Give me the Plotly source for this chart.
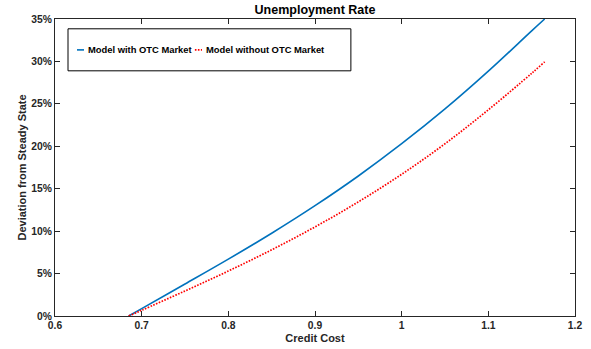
import plotly.graph_objects as go

# Credit cost grid and unemployment-rate deviations (percent)
credit_cost = [0.685, 0.70, 0.75, 0.80, 0.85, 0.90, 0.95, 1.00, 1.05, 1.10, 1.15, 1.165]
with_otc = [0.0, 0.87, 3.77, 6.7, 9.75, 13.0, 16.5, 20.3, 24.4, 28.85, 33.6, 35.0]
without_otc = [0.0, 0.67, 2.95, 5.3, 7.8, 10.5, 13.45, 16.7, 20.3, 24.3, 28.6, 29.95]

series_names = ["Model with OTC Market", "Model without OTC Market"]
x_ticks = [0.6, 0.7, 0.8, 0.9, 1.0, 1.1, 1.2]
x_tick_text = ["0.6", "0.7", "0.8", "0.9", "1", "1.1", "1.2"]
y_ticks = [0, 5, 10, 15, 20, 25, 30, 35]
y_tick_text = ["0%", "5%", "10%", "15%", "20%", "25%", "30%", "35%"]

BLUE = "#0072BD"
RED = "#FF0000"
AXIS = "#262626"
FONT = "Liberation Sans, Arial, Helvetica, sans-serif"

fig = go.Figure()
fig.add_trace(go.Scatter(
    x=credit_cost, y=with_otc, mode="lines", name=series_names[0],
    line=dict(color=BLUE, width=1.6, shape="spline", smoothing=1.0), showlegend=False,
))
fig.add_trace(go.Scatter(
    x=credit_cost, y=without_otc, mode="lines", name=series_names[1],
    line=dict(color=RED, width=1.7, dash="1.6px,1.4px", shape="spline", smoothing=1.0),
    showlegend=False,
))

axis_common = dict(
    showgrid=False, zeroline=False, showline=True, linecolor=AXIS, linewidth=1,
    mirror="ticks", ticks="inside", ticklen=5, tickcolor=AXIS, tickwidth=1,
    tickfont=dict(family=FONT, size=10.3, color=AXIS, weight="bold"),
    automargin=False,
)

fig.update_xaxes(
    range=[0.6, 1.2], tickvals=x_ticks, ticktext=x_tick_text,
    title=dict(text="<b>Credit Cost</b>", font=dict(family=FONT, size=11, color=AXIS), standoff=3),
    **axis_common,
)
fig.update_yaxes(
    range=[0, 35], tickvals=y_ticks, ticktext=y_tick_text,
    title=dict(text="<b>Deviation from Steady State</b>", font=dict(family=FONT, size=11, color=AXIS), standoff=2),
    **axis_common,
)

# Legend box drawn in axis-domain coordinates
legend_shapes = [
    dict(type="rect", xref="x domain", yref="y domain", x0=0.025, x1=0.569, y0=0.8255, y1=0.967,
         line=dict(color="#000000", width=1), fillcolor="white", layer="above"),
    dict(type="line", xref="x domain", yref="y domain", x0=0.0423, x1=0.0558, y0=0.896, y1=0.896,
         line=dict(color=BLUE, width=1.6)),
    dict(type="line", xref="x domain", yref="y domain", x0=0.269, x1=0.2827, y0=0.896, y1=0.896,
         line=dict(color=RED, width=1.7, dash="1.6px,1.4px")),
]
legend_labels = [
    dict(xref="x domain", yref="y domain", x=0.0596, y=0.896, xanchor="left", yanchor="middle",
         text="<b>" + series_names[0] + "</b>", showarrow=False,
         font=dict(family=FONT, size=9.4, color="#000000")),
    dict(xref="x domain", yref="y domain", x=0.2856, y=0.896, xanchor="left", yanchor="middle",
         text="<b>" + series_names[1] + "</b>", showarrow=False,
         font=dict(family=FONT, size=9.4, color="#000000")),
]

fig.update_layout(
    width=591, height=349,
    margin=dict(l=55, r=16, t=19, b=33),
    paper_bgcolor="white", plot_bgcolor="white",
    title=dict(text="<b>Unemployment Rate</b>", x=0.533, xanchor="center",
               y=0.972, yanchor="middle", yref="container",
               font=dict(family=FONT, size=12.5, color="#000000")),
    shapes=legend_shapes, annotations=legend_labels,
    showlegend=False,
)

fig.write_html("out.html")
